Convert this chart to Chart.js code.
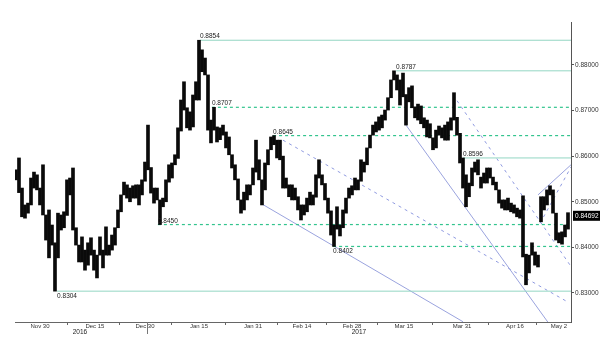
<!DOCTYPE html>
<html>
<head>
<meta charset="utf-8">
<script src="https://cdn.jsdelivr.net/npm/chart.js@4"></script>
<style>
  html, body { margin: 0; padding: 0; background: #fff; }
  canvas { display: block; }
</style>
</head>
<body>
<canvas id="myChart" width="600" height="341"></canvas>
<script>
// price bars, one per step of trading time (low / high)
const lows = [
    0.8548, 0.8520, 0.8467, 0.8464, 0.8475, 0.8493, 0.8530, 0.8526, 0.8493, 0.8471,
    0.8416, 0.8377, 0.8405, 0.8304, 0.8377, 0.8438, 0.8443, 0.8470, 0.8515, 0.8438,
    0.8405, 0.8368, 0.8368, 0.8350, 0.8361, 0.8383, 0.8350, 0.8333, 0.8383, 0.8355,
    0.8383, 0.8383, 0.8394, 0.8405, 0.8443, 0.8478, 0.8515, 0.8508, 0.8500, 0.8508,
    0.8508, 0.8493, 0.8515, 0.8545, 0.8570, 0.8519, 0.8497, 0.8504, 0.8450, 0.8489,
    0.8500, 0.8543, 0.8552, 0.8581, 0.8595, 0.8655, 0.8701, 0.8662, 0.8657, 0.8664,
    0.8723, 0.8723, 0.8785, 0.8778, 0.8657, 0.8629, 0.8657, 0.8631, 0.8636, 0.8646,
    0.8618, 0.8603, 0.8574, 0.8548, 0.8504, 0.8475, 0.8482, 0.8504, 0.8515, 0.8537,
    0.8565, 0.8548, 0.8493, 0.8526, 0.8581, 0.8614, 0.8625, 0.8596, 0.8592, 0.8530,
    0.8530, 0.8511, 0.8504, 0.8504, 0.8482, 0.8460, 0.8471, 0.8478, 0.8493, 0.8493,
    0.8510, 0.8552, 0.8537, 0.8504, 0.8475, 0.8427, 0.8402, 0.8440, 0.8425, 0.8443,
    0.8475, 0.8508, 0.8515, 0.8526, 0.8526, 0.8545, 0.8565, 0.8581, 0.8618, 0.8646,
    0.8653, 0.8657, 0.8662, 0.8679, 0.8701, 0.8728, 0.8767, 0.8745, 0.8712, 0.8730,
    0.8668, 0.8719, 0.8706, 0.8684, 0.8679, 0.8671, 0.8662, 0.8642, 0.8640, 0.8614,
    0.8618, 0.8646, 0.8640, 0.8635, 0.8635, 0.8657, 0.8679, 0.8646, 0.8585, 0.8530,
    0.8489, 0.8511, 0.8535, 0.8565, 0.8559, 0.8530, 0.8541, 0.8541, 0.8552, 0.8537,
    0.8526, 0.8497, 0.8486, 0.8482, 0.8482, 0.8478, 0.8475, 0.8467, 0.8464, 0.8379,
    0.8318, 0.8344, 0.8383, 0.8361, 0.8357, 0.8456, 0.8482, 0.8493, 0.8515, 0.8475,
    0.8416, 0.8410, 0.8407, 0.8423, 0.8440
];
const highs = [
    0.8570, 0.8596, 0.8530, 0.8493, 0.8497, 0.8552, 0.8565, 0.8559, 0.8530, 0.8581,
    0.8471, 0.8482, 0.8449, 0.8410, 0.8475, 0.8471, 0.8478, 0.8548, 0.8552, 0.8574,
    0.8443, 0.8405, 0.8423, 0.8394, 0.8410, 0.8421, 0.8394, 0.8383, 0.8423, 0.8394,
    0.8445, 0.8405, 0.8427, 0.8443, 0.8482, 0.8515, 0.8543, 0.8537, 0.8530, 0.8535,
    0.8537, 0.8537, 0.8548, 0.8587, 0.8668, 0.8575, 0.8530, 0.8530, 0.8504, 0.8508,
    0.8548, 0.8581, 0.8585, 0.8603, 0.8662, 0.8723, 0.8763, 0.8706, 0.8697, 0.8734,
    0.8763, 0.8854, 0.8833, 0.8815, 0.8778, 0.8679, 0.8707, 0.8664, 0.8662, 0.8668,
    0.8653, 0.8642, 0.8603, 0.8581, 0.8550, 0.8504, 0.8521, 0.8537, 0.8537, 0.8574,
    0.8635, 0.8592, 0.8548, 0.8585, 0.8614, 0.8642, 0.8645, 0.8635, 0.8635, 0.8600,
    0.8552, 0.8537, 0.8537, 0.8530, 0.8511, 0.8493, 0.8493, 0.8508, 0.8521, 0.8515,
    0.8559, 0.8592, 0.8559, 0.8540, 0.8508, 0.8480, 0.8449, 0.8489, 0.8449, 0.8482,
    0.8508, 0.8530, 0.8535, 0.8552, 0.8548, 0.8592, 0.8587, 0.8618, 0.8646, 0.8668,
    0.8675, 0.8686, 0.8690, 0.8701, 0.8728, 0.8767, 0.8787, 0.8778, 0.8767, 0.8782,
    0.8735, 0.8750, 0.8754, 0.8708, 0.8714, 0.8710, 0.8684, 0.8679, 0.8671, 0.8640,
    0.8657, 0.8666, 0.8662, 0.8668, 0.8675, 0.8684, 0.8739, 0.8685, 0.8650, 0.8596,
    0.8559, 0.8541, 0.8574, 0.8587, 0.8592, 0.8554, 0.8563, 0.8574, 0.8574, 0.8554,
    0.8543, 0.8526, 0.8504, 0.8504, 0.8508, 0.8497, 0.8493, 0.8486, 0.8482, 0.8513,
    0.8385, 0.8383, 0.8410, 0.8390, 0.8383, 0.8511, 0.8511, 0.8526, 0.8535, 0.8526,
    0.8475, 0.8432, 0.8434, 0.8449, 0.8476
];
const lastClose = 0.84692;

// axes
const yTicks = [0.83, 0.84, 0.85, 0.86, 0.87, 0.88];
const xTickPos = [8, 26.3, 43, 61, 79, 95.3, 112, 129.3, 148.7, 166.3, 181];
const xTickText = ['Nov 30', 'Dec 15', 'Dec 30', 'Jan 15', 'Jan 31', 'Feb 14', 'Feb 28', 'Mar 15', 'Mar 31', 'Apr 16', 'May 2'];
const yearPos = [21.3, 114.3];
const yearText = ['2016', '2017'];
const yearBreak = 43.7;

// horizontal levels (value, bar where it starts)
const highLowLevels = [0.8854, 0.8787, 0.8596, 0.8304];
const highLowFrom = [61.3, 126.7, 149, 13.7];
const pivotLevels = [0.8707, 0.8645, 0.8450, 0.8402];
const pivotFrom = [65.3, 85.7, 47.3, 105.7];

// trend lines [x1, y1, x2, y2]
const trendSolid = [[82, 0.8495, 149, 0.8237], [130, 0.8668, 177.3, 0.8236], [174, 0.8515, 185, 0.8581]];
const trendDashed = [[89, 0.8635, 184, 0.8280], [145.7, 0.8734, 184.7, 0.8361], [174.7, 0.8453, 185, 0.8576]];

const X_MAX = 185;
const FONT = '"Liberation Sans", Arial, sans-serif';

const datasets = [{
    type: 'bar',
    data: lows.map((lo, i) => ({ x: i, y: [lo, highs[i]] })),
    backgroundColor: '#0a0a0a',
    borderWidth: 0,
    barPercentage: 1,
    categoryPercentage: 1,
    order: 0
}];

highLowLevels.forEach((v, k) => datasets.push({
    type: 'line',
    data: [{ x: highLowFrom[k], y: v }, { x: X_MAX, y: v }],
    borderColor: '#93d6c3', borderWidth: 1, pointRadius: 0, order: 2
}));
pivotLevels.forEach((v, k) => datasets.push({
    type: 'line',
    data: [{ x: pivotFrom[k], y: v }, { x: X_MAX, y: v }],
    borderColor: '#33c48e', borderWidth: 1.2, borderDash: [3, 3], pointRadius: 0, order: 2
}));
trendSolid.forEach(t => datasets.push({
    type: 'line',
    data: [{ x: t[0], y: t[1] }, { x: t[2], y: t[3] }],
    borderColor: '#9aa3de', borderWidth: 1, pointRadius: 0, order: 3
}));
trendDashed.forEach(t => datasets.push({
    type: 'line',
    data: [{ x: t[0], y: t[1] }, { x: t[2], y: t[3] }],
    borderColor: '#8f9ae0', borderWidth: 1, borderDash: [3, 4], pointRadius: 0, order: 3
}));

const labelsPlugin = {
    id: 'labelsPlugin',
    afterDraw(chart) {
        const { ctx, scales: { x, y }, chartArea } = chart;
        ctx.save();
        ctx.font = '6.5px ' + FONT;
        ctx.fillStyle = '#222';
        ctx.textAlign = 'left';
        ctx.textBaseline = 'alphabetic';
        const levelText = (v, from) => {
            const px = x.getPixelForValue(from);
            const py = y.getPixelForValue(v);
            // the two lowest marks sit under their line
            const below = v < 0.841;
            ctx.fillText(v.toFixed(4), px, below ? py + 6.5 : py - 2);
        };
        highLowLevels.forEach((v, k) => levelText(v, highLowFrom[k]));
        pivotLevels.forEach((v, k) => levelText(v, pivotFrom[k]));

        // year labels + year break
        ctx.textAlign = 'center';
        yearText.forEach((t, k) => ctx.fillText(t, x.getPixelForValue(yearPos[k]), 334));
        const bx = Math.round(x.getPixelForValue(yearBreak)) + 0.5;
        ctx.strokeStyle = '#777';
        ctx.lineWidth = 1;
        ctx.beginPath();
        ctx.moveTo(bx, chartArea.bottom);
        ctx.lineTo(bx, chartArea.bottom + 12);
        ctx.stroke();

        // last price box
        const ly = y.getPixelForValue(lastClose);
        ctx.fillStyle = '#000';
        ctx.fillRect(chartArea.right + 2, ly - 5, 600 - chartArea.right - 2, 10);
        ctx.fillStyle = '#fff';
        ctx.textAlign = 'left';
        ctx.textBaseline = 'middle';
        ctx.fillText(lastClose.toFixed(5), chartArea.right + 4, ly + 0.5);
        ctx.restore();
    }
};

const midTicks = xTickPos.slice(1).map((v, k) => (v + xTickPos[k]) / 2);

const ctx = document.getElementById('myChart').getContext('2d');
const myChart = new Chart(ctx, {
    type: 'bar',
    data: { datasets: datasets },
    plugins: [labelsPlugin],
    options: {
        responsive: false,
        animation: false,
        devicePixelRatio: 1,
        layout: { padding: { left: 15, top: 22, right: 0, bottom: 0 } },
        plugins: { legend: { display: false }, tooltip: { enabled: false } },
        scales: {
            x: {
                type: 'linear',
                offset: false,
                min: -0.33,
                max: X_MAX,
                afterBuildTicks: (scale) => {
                    scale.ticks = xTickPos.concat(midTicks).sort((a, b) => a - b).map(v => ({ value: v }));
                },
                afterFit: (scale) => { scale.height = 19; },
                ticks: {
                    autoSkip: false,
                    maxRotation: 0,
                    padding: -2,
                    color: '#333',
                    font: { family: FONT, size: 6 },
                    callback: (v) => {
                        const k = xTickPos.indexOf(v);
                        return k >= 0 ? xTickText[k] : '';
                    }
                },
                grid: {
                    offset: false,
                    drawOnChartArea: false,
                    tickLength: 3,
                    color: (c) => (c.tick && xTickPos.includes(c.tick.value)) ? 'rgba(0,0,0,0)' : '#666'
                },
                border: { color: '#666', width: 1 }
            },
            y: {
                position: 'right',
                min: 0.82364,
                max: 0.8894,
                afterBuildTicks: (scale) => {
                    scale.ticks = yTicks.map(v => ({ value: v }));
                },
                afterFit: (scale) => { scale.width = 29; },
                ticks: {
                    padding: 1,
                    color: '#333',
                    font: { family: FONT, size: 6.5 },
                    callback: (v) => v.toFixed(5)
                },
                grid: { drawOnChartArea: false, tickLength: 3, color: '#555' },
                border: { color: '#555', width: 1 }
            }
        }
    }
});
</script>
</body>
</html>
